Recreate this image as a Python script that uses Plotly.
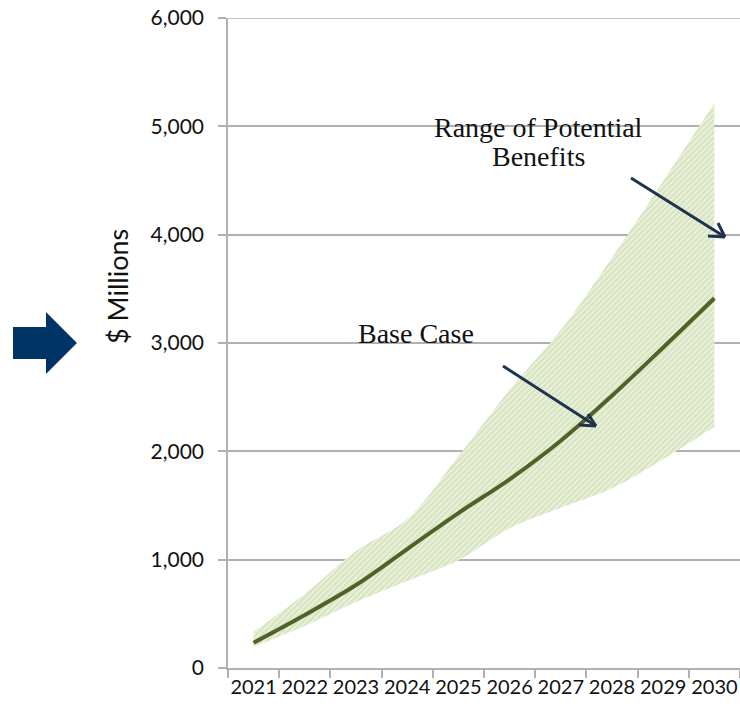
import plotly.graph_objects as go

years = ['2021', '2022', '2023', '2024', '2025', '2026', '2027', '2028', '2029', '2030']
base_case = [234, 490, 766, 1098, 1430, 1742, 2098, 2514, 2959, 3413]
upper_range = [335, 683, 1080, 1375, 1957, 2569, 3120, 3790, 4496, 5215]
lower_range = [197, 388, 609, 803, 995, 1290, 1480, 1660, 1928, 2227]
y_ticks = [0, 1000, 2000, 3000, 4000, 5000, 6000]

W, H = 740, 709
ML, MR, MT, MB = 228, 0, 18, 41
PW, PH = W - ML - MR, H - MT - MB


def px(x):
    return (x - ML) / PW


def py(y):
    return (H - MB - y) / PH


fig = go.Figure()
fig.add_trace(go.Scatter(x=years, y=lower_range, mode='lines',
                         line=dict(width=0, shape='spline', smoothing=1),
                         hoverinfo='skip', showlegend=False))
fig.add_trace(go.Scatter(x=years, y=upper_range, mode='lines',
                         line=dict(width=0, shape='spline', smoothing=1),
                         fill='tonexty',
                         fillpattern=dict(shape='/', fgcolor='#b3cb84', bgcolor='white',
                                          size=4, solidity=0.8),
                         name='Range of Potential Benefits', showlegend=False))
fig.add_trace(go.Scatter(x=years, y=base_case, mode='lines',
                         line=dict(color='#4f6228', width=4, shape='spline', smoothing=1),
                         name='Base Case', showlegend=False))

axis_grey = '#b0b0b0'
fig.update_xaxes(type='category', range=[-0.5, 9.5], showline=True, linecolor=axis_grey,
                 linewidth=1.5, ticks='outside', ticklen=8, tickcolor=axis_grey, tickwidth=1.5,
                 tickson='boundaries', showgrid=False, automargin=False, tickangle=0,
                 ticklabeloverflow='allow',
                 tickfont=dict(family='Lato', size=20, color='#111'))
fig.update_yaxes(range=[0, 6000], tickvals=y_ticks, tickformat=',', showgrid=True,
                 gridcolor=axis_grey, gridwidth=1.5, showline=True, linecolor=axis_grey,
                 linewidth=1.5, ticks='outside', ticklen=8, tickcolor=axis_grey, tickwidth=1.5,
                 zeroline=False, automargin=False, ticklabelstandoff=10,
                 ticklabeloverflow='allow',
                 tickfont=dict(family='Lato', size=21, color='#111'))

shapes = []
# top gridline (plotly drops the gridline lying on the range edge)
shapes.append(dict(type='line', xref='paper', yref='y', x0=0, x1=1,
                   y0=y_ticks[-1], y1=y_ticks[-1], layer='below',
                   line=dict(color=axis_grey, width=1.5)))
# big blue arrow on the left
pts = [(13, 327), (46, 327), (46, 312), (77, 343), (46, 374), (46, 359), (13, 359)]
path = 'M ' + ' L '.join(f'{px(a):.5f},{py(b):.5f}' for a, b in pts) + ' Z'
shapes.append(dict(type='path', xref='paper', yref='paper', path=path,
                   fillcolor='#003366', line=dict(width=0)))


def arrow(x0, y0, x1, y1, arms):
    out = [dict(type='line', xref='paper', yref='paper', x0=px(x0), y0=py(y0),
                x1=px(x1), y1=py(y1), line=dict(color='#1f3350', width=3))]
    for (ax_, ay_) in arms:
        out.append(dict(type='line', xref='paper', yref='paper', x0=px(ax_), y0=py(ay_),
                        x1=px(x1), y1=py(y1), line=dict(color='#1f3350', width=3)))
    return out


shapes += arrow(631, 178, 725, 237, [(708, 236), (718, 223)])
shapes += arrow(503, 366, 596, 426, [(579, 425), (588, 414)])
fig.update_layout(shapes=shapes)

serif = dict(family='Liberation Serif', size=28, color='#111')
annotations = [
    dict(text='$ Millions', xref='paper', yref='paper', x=px(117), y=py(287),
         textangle=-90, showarrow=False, font=dict(family='Lato', size=27, color='#111'),
         xanchor='center', yanchor='middle'),
    dict(text='Range of Potential', xref='paper', yref='paper', x=px(538), y=py(127),
         showarrow=False, font=serif, xanchor='center', yanchor='middle'),
    dict(text='Benefits', xref='paper', yref='paper', x=px(538), y=py(157),
         showarrow=False, font=serif, xanchor='center', yanchor='middle'),
    dict(text='Base Case', xref='paper', yref='paper', x=px(416), y=py(333),
         showarrow=False, font=serif, xanchor='center', yanchor='middle'),
]
fig.update_layout(annotations=annotations)

fig.update_layout(width=W, height=H, margin=dict(l=ML, r=MR, t=MT, b=MB),
                  paper_bgcolor='white', plot_bgcolor='white', showlegend=False)

fig.write_html('out.html', config={'displayModeBar': False},
               post_script="document.body.style.margin='0';"
                           "document.body.style.overflow='hidden';")
